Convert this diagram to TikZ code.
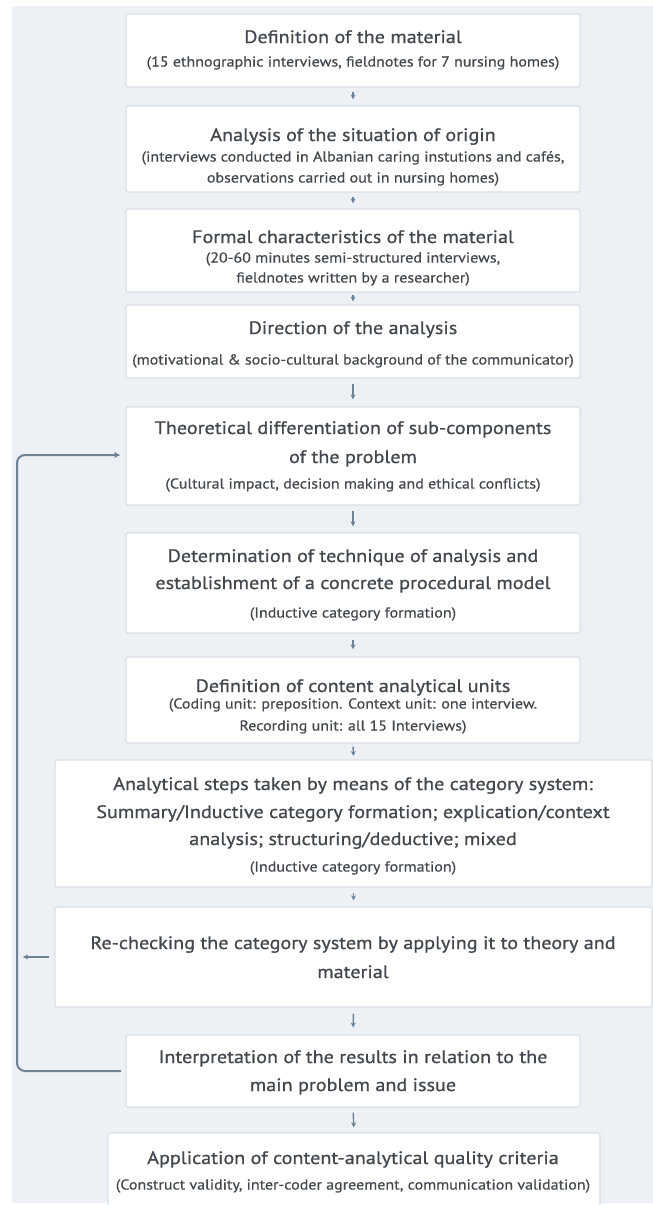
\documentclass[tikz,border=0pt]{standalone}
\usepackage{fontspec}
\setmainfont{PT Sans}[FakeStretch=1.12]
\newfontfamily\ttlfont{PT Sans}[FakeStretch=1.12, FakeBold=0.8]
\newfontfamily\sbtfont{PT Sans}[FakeStretch=1.12, FakeBold=0.5]
\usetikzlibrary{arrows.meta}
\definecolor{bgc}{HTML}{EDF1F5}
\definecolor{bordc}{HTML}{D8DFE6}
\definecolor{txtc}{HTML}{43484E}
\definecolor{arrc}{HTML}{6F8192}
\tikzset{
  box/.style={draw=bordc, line width=1.2pt, fill=white, rounded corners=1.5pt, inner sep=0pt},
  ttl/.style={anchor=base, text=txtc, font=\ttlfont\fontsize{18}{27}\selectfont, inner sep=0pt},
  sbt/.style={anchor=base, text=txtc, font=\sbtfont\fontsize{14.3}{20}\selectfont, inner sep=0pt},
  flow/.style={draw=arrc, line width=1.4pt, -{Stealth[length=5pt,width=5pt]}},
  loop/.style={draw=arrc, line width=2pt, rounded corners=8pt, -{Stealth[length=6pt,width=6pt]}},
}
\begin{document}
\begin{tikzpicture}[x=1pt,y=-1pt]
\useasboundingbox (0,0) rectangle (653,1205);
\fill[bgc] (12,6) rectangle (653,1203);
% boxes
\node[box, minimum width=454pt, minimum height=73pt] (b1) at (353,50.5) {};
\node[box, minimum width=454pt, minimum height=86pt] (b2) at (353,149) {};
\node[box, minimum width=454pt, minimum height=83pt] (b3) at (353,250.5) {};
\node[box, minimum width=454pt, minimum height=73pt] (b4) at (353,341.5) {};
\node[box, minimum width=454pt, minimum height=98pt] (b5) at (353,456) {};
\node[box, minimum width=454pt, minimum height=100pt] (b6) at (353,583) {};
\node[box, minimum width=454pt, minimum height=86pt] (b7) at (353,700) {};
\node[box, minimum width=597pt, minimum height=127pt] (b8) at (353.5,823.5) {};
\node[box, minimum width=597pt, minimum height=100pt] (b9) at (353.5,957) {};
\node[box, minimum width=454pt, minimum height=72pt] (b10) at (353,1071) {};
\node[box, minimum width=492pt, minimum height=80pt] (b11) at (354,1173) {};
% texts
\node[ttl] (t1) at (353,43) {Definition of the material};
\node[sbt] (s1) at (353,66.5) {(15 ethnographic interviews, fieldnotes for 7 nursing homes)};
\node[ttl] (t2) at (353,141) {Analysis of the situation of origin};
\node[sbt] (s2a) at (353,161.5) {(interviews conducted in Albanian caring instutions and cafés,};
\node[sbt] (s2b) at (353,182.5) {observations carried out in nursing homes)};
\node[ttl] (t3) at (353,243) {Formal characteristics of the material};
\node[sbt] (s3a) at (353,262.5) {(20-60 minutes semi-structured interviews,};
\node[sbt] (s3b) at (353,282.5) {fieldnotes written by a researcher)};
\node[ttl] (t4) at (353,334) {Direction of the analysis};
\node[sbt] (s4) at (353,364.5) {(motivational \& socio-cultural background of the communicator)};
\node[ttl] (t5a) at (353,434) {Theoretical differentiation of sub-components};
\node[ttl] (t5b) at (353,463) {of the problem};
\node[sbt] (s5) at (353,488.5) {(Cultural impact, decision making and ethical conflicts)};
\node[ttl] (t6a) at (353,562) {Determination of technique of analysis and};
\node[ttl] (t6b) at (353,589) {establishment of a concrete procedural model};
\node[sbt] (s6) at (353,617.5) {(Inductive category formation)};
\node[ttl] (t7) at (353,692) {Definition of content analytical units};
\node[sbt] (s7a) at (353,708.5) {(Coding unit: preposition. Context unit: one interview.};
\node[sbt] (s7b) at (353,730.5) {Recording unit: all 15 Interviews)};
\node[ttl] (t8a) at (353,790) {Analytical steps taken by means of the category system:};
\node[ttl] (t8b) at (353,818) {Summary/Inductive category formation; explication/context};
\node[ttl] (t8c) at (353,845) {analysis; structuring/deductive; mixed};
\node[sbt] (s8) at (353,871.5) {(Inductive category formation)};
\node[ttl] (t9a) at (353,949) {Re-checking the category system by applying it to theory and};
\node[ttl] (t9b) at (353,978) {material};
\node[ttl] (t10a) at (353,1063) {Interpretation of the results in relation to the};
\node[ttl] (t10b) at (353,1091) {main problem and issue};
\node[ttl] (t11) at (353,1164) {Application of content-analytical quality criteria};
\node[sbt] (s11) at (353,1189.5) {(Construct validity, inter-coder agreement, communication validation)};
% down arrows
\draw[flow, shorten <=4pt, shorten >=6pt] (b1.south) -- (b2.north);
\draw[flow, shorten <=4pt, shorten >=5pt] (b2.south) -- (b3.north);
\draw[flow, shorten <=2.5pt, shorten >=3pt] (b3.south) -- (b4.north);
\draw[flow, shorten <=5pt, shorten >=7pt] (b4.south) -- (b5.north);
\draw[flow, shorten <=5pt, shorten >=6pt] (b5.south) -- (b6.north);
\draw[flow, shorten <=6pt, shorten >=7pt] (b6.south) -- (b7.north);
\draw[flow, shorten <=3pt, shorten >=3.5pt] (b7.south) -- (b8.north);
\draw[flow, shorten <=5pt, shorten >=6pt] (b8.south) -- (b9.north);
\draw[flow, shorten <=6pt, shorten >=7pt] (b9.south) -- (b10.north);
\draw[flow, shorten <=5pt, shorten >=5pt] (b10.south) -- (b11.north);
% feedback loop
\coordinate (lstart) at (121,1071);
\coordinate (lend) at (120,455);
\draw[loop] (lstart) -- (17,1071) -- (17,455) -- (lend);
\coordinate (small) at (23,957);
\draw[flow, line width=1.6pt, shorten <=5pt] (b9.west) -- (small);
\end{tikzpicture}
\end{document}
